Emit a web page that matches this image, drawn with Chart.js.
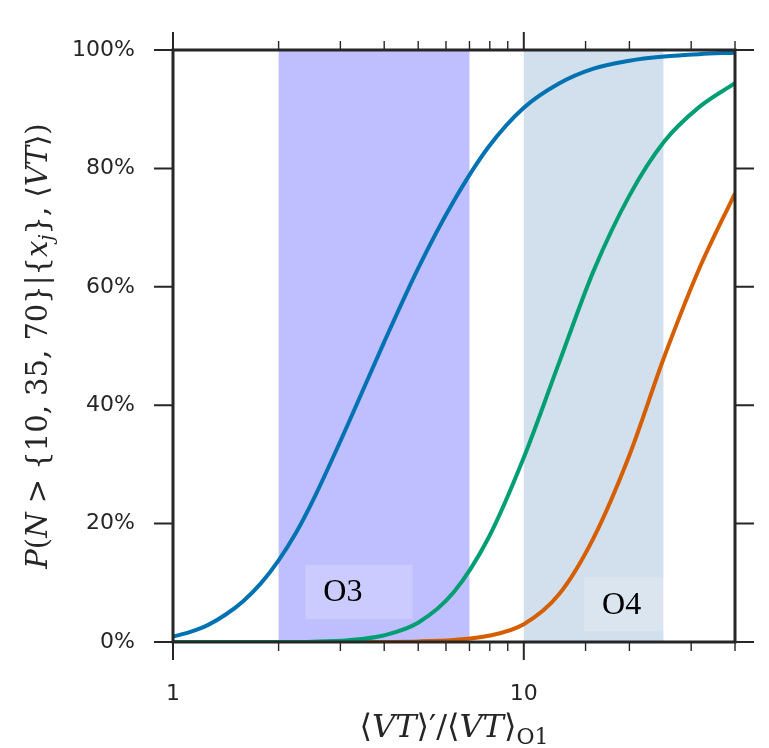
<!DOCTYPE html>
<html>
<head>
<meta charset="utf-8">
<script src="https://cdn.jsdelivr.net/npm/chart.js@4.4.1/dist/chart.umd.min.js"></script>
<style>
  html, body { margin: 0; padding: 0; background: #ffffff; }
  #wrap { width: 769px; height: 748px; }
</style>
</head>
<body>
<div id="wrap"><canvas id="probChart" width="769" height="748"></canvas></div>
<script>
// -------------------- DATA --------------------
// x = <VT>'/<VT>_O1 (log axis), y = probability in %

// N > 10 (blue)
const blueX = [1, 1.12, 1.26, 1.41, 1.585, 1.78, 2, 2.24, 2.51, 3.16, 3.98, 5.01, 6.31, 7.94, 10, 12.6, 15.8, 20, 25.1, 31.6, 40];
const blueY = [0.9, 1.7, 2.9, 4.6, 6.9, 9.9, 13.8, 18.4, 24.0, 36.9, 50.4, 63.25, 74.45, 83.65, 90.25, 94.35, 96.85, 98.2, 98.9, 99.3, 99.55];

// N > 35 (green)
const greenX = [1, 2, 2.51, 3.16, 3.98, 5.01, 6.31, 7.94, 10, 12.6, 15.8, 20, 25.1, 31.6, 40];
const greenY = [0, 0, 0.05, 0.3, 1.1, 3.3, 8.4, 17.65, 31.15, 47.15, 62.65, 75.4, 84.5, 90.35, 94.4];

// N > 70 (orange)
const orangeX = [1, 3.16, 5.01, 6.31, 7.94, 10, 12.6, 15.8, 20, 25.1, 31.6, 40];
const orangeY = [0, 0, 0.1, 0.35, 1.05, 3.0, 8.05, 17.55, 31.55, 48.05, 63.0, 75.8];

// observing runs shaded on the x axis
const bandStart = [2, 10];
const bandEnd = [7, 25];
const bandLabels = ['O3', 'O4'];
const bandLabelX = [3.05, 19];
const bandLabelY = [8.3, 6.2];

// axis ticks
const yTickValues = [0, 20, 40, 60, 80, 100];
const xLabelledTicks = [1, 10];

const colBlue = '#0072B2';
const colGreen = '#009E73';
const colOrange = '#D55E00';
const bandColors = ['rgba(191,191,255,1)', 'rgba(210,223,236,1)'];
const labelBoxPadR = [50, 35];
const axisCol = '#262626';

function toPoints(xs, ys) {
    return xs.map((x, i) => ({ x: x, y: ys[i] }));
}

// -------------------- rich text helper for the math titles --------------------
const serif = "'DejaVu Serif', 'Liberation Serif', serif";
function segFont(seg, size) {
    const s = seg.sub ? Math.round(size * 0.7) : size;
    return (seg.it ? 'italic ' : '') + s + 'px ' + serif;
}
function drawRich(ctx, segs, cx, baseY, size) {
    let total = 0;
    segs.forEach(seg => {
        ctx.font = segFont(seg, size);
        total += ctx.measureText(seg.t).width;
    });
    let x = cx - total / 2;
    ctx.textAlign = 'left';
    ctx.textBaseline = 'alphabetic';
    segs.forEach(seg => {
        ctx.font = segFont(seg, size);
        ctx.fillText(seg.t, x, baseY + (seg.sub ? size * 0.22 : 0));
        x += ctx.measureText(seg.t).width;
    });
}

const xTitle = [
    { t: '\u27E8' }, { t: 'VT', it: true }, { t: '\u27E9\u2032/\u27E8' },
    { t: 'VT', it: true }, { t: '\u27E9' }, { t: 'O1', sub: true }
];
const yTitle = [
    { t: 'P', it: true }, { t: '(' }, { t: 'N', it: true }, { t: ' > {10, 35, 70}|{' },
    { t: 'x', it: true }, { t: 'j', it: true, sub: true }, { t: '}, \u27E8' },
    { t: 'VT', it: true }, { t: '\u27E9)' }
];

// -------------------- plugins --------------------
const bandsPlugin = {
    id: 'bands',
    beforeDatasetsDraw(chart) {
        const ctx = chart.ctx, a = chart.chartArea, xs = chart.scales.x;
        ctx.save();
        bandStart.forEach((s, i) => {
            const x0 = xs.getPixelForValue(s), x1 = xs.getPixelForValue(bandEnd[i]);
            ctx.fillStyle = bandColors[i];
            ctx.fillRect(x0, a.top, x1 - x0, a.bottom - a.top);
        });
        ctx.restore();
    },
    afterDatasetsDraw(chart) {
        const ctx = chart.ctx, xs = chart.scales.x, ys = chart.scales.y;
        ctx.save();
        bandLabels.forEach((txt, i) => {
            const px = xs.getPixelForValue(bandLabelX[i]);
            const py = ys.getPixelForValue(bandLabelY[i]);
            ctx.font = "32px 'Liberation Serif', serif";
            const w = ctx.measureText(txt).width;
            ctx.fillStyle = 'rgba(255,255,255,0.2)';
            ctx.fillRect(px - w / 2 - 18, py - 28, w + 18 + labelBoxPadR[i], 54);
            ctx.fillStyle = '#000000';
            ctx.textAlign = 'center';
            ctx.textBaseline = 'middle';
            ctx.fillText(txt, px, py);
        });
        ctx.restore();
    }
};

const framePlugin = {
    id: 'frame',
    afterDraw(chart) {
        const ctx = chart.ctx, a = chart.chartArea;
        const xs = chart.scales.x, ys = chart.scales.y;
        ctx.save();
        ctx.strokeStyle = axisCol;
        // x ticks, bottom and top, pointing out
        xs.ticks.forEach(t => {
            const px = xs.getPixelForValue(t.value);
            const major = Math.abs(Math.log10(t.value) - Math.round(Math.log10(t.value))) < 1e-9;
            const len = major ? 18 : 9;
            ctx.lineWidth = major ? 2 : 1.4;
            ctx.beginPath();
            ctx.moveTo(px, a.bottom); ctx.lineTo(px, a.bottom + len);
            ctx.moveTo(px, a.top); ctx.lineTo(px, a.top - len);
            ctx.stroke();
        });
        // y ticks, left and right
        ctx.lineWidth = 2;
        yTickValues.forEach(v => {
            const py = ys.getPixelForValue(v);
            ctx.beginPath();
            ctx.moveTo(a.left, py); ctx.lineTo(a.left - 19, py);
            ctx.moveTo(a.right, py); ctx.lineTo(a.right + 19, py);
            ctx.stroke();
        });
        // spines
        ctx.lineWidth = 3;
        ctx.strokeRect(a.left, a.top, a.right - a.left, a.bottom - a.top);

        // axis titles
        ctx.fillStyle = axisCol;
        drawRich(ctx, xTitle, (a.left + a.right) / 2, 737, 32);
        ctx.translate(47, (a.top + a.bottom) / 2);
        ctx.rotate(-Math.PI / 2);
        drawRich(ctx, yTitle, 0, 0, 29);
        ctx.restore();
    }
};

// -------------------- CHART --------------------
const ctx1 = document.getElementById('probChart').getContext('2d');
new Chart(ctx1, {
    type: 'line',
    data: {
        datasets: [
            { label: 'N > 10', data: toPoints(blueX, blueY), borderColor: colBlue },
            { label: 'N > 35', data: toPoints(greenX, greenY), borderColor: colGreen },
            { label: 'N > 70', data: toPoints(orangeX, orangeY), borderColor: colOrange }
        ].map(d => Object.assign(d, {
            borderWidth: 4,
            pointRadius: 0,
            fill: false,
            cubicInterpolationMode: 'monotone'
        }))
    },
    options: {
        responsive: false,
        animation: false,
        layout: { padding: { top: 50, right: 34, left: 0, bottom: 0 } },
        plugins: {
            legend: { display: false },
            tooltip: { enabled: false }
        },
        scales: {
            x: {
                type: 'logarithmic',
                min: 1,
                max: 40,
                grid: { display: false },
                border: { display: false },
                ticks: {
                    autoSkip: false,
                    maxRotation: 0,
                    padding: 31,
                    color: axisCol,
                    font: { family: "'DejaVu Sans', sans-serif", size: 22 },
                    callback: (v) => xLabelledTicks.includes(v) ? String(v) : ''
                },
                afterFit: (s) => { s.height = 106; }
            },
            y: {
                min: 0,
                max: 100,
                grid: { display: false },
                border: { display: false },
                afterBuildTicks: (s) => { s.ticks = yTickValues.map(v => ({ value: v })); },
                ticks: {
                    padding: 30,
                    color: axisCol,
                    font: { family: "'DejaVu Sans', sans-serif", size: 22 },
                    callback: (v) => v + '%'
                },
                afterFit: (s) => { s.width = 173; }
            }
        }
    },
    plugins: [bandsPlugin, framePlugin]
});
</script>
</body>
</html>
